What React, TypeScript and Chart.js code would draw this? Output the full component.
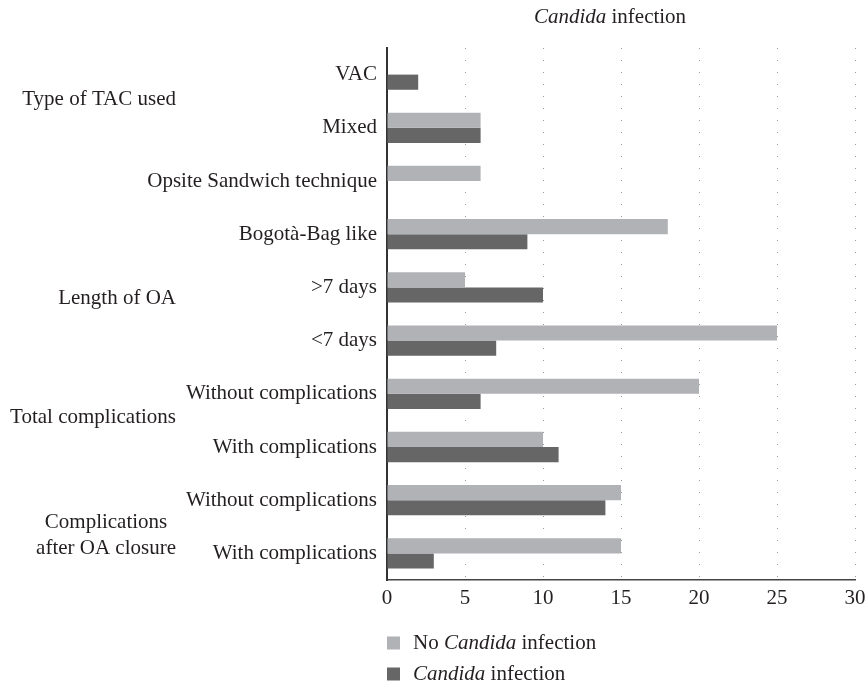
import React, { useEffect, useRef } from 'react';
import { Chart, registerables } from 'chart.js';

Chart.register(...registerables);

const categories = [
  'VAC',
  'Mixed',
  'Opsite Sandwich technique',
  'Bogotà-Bag like',
  '>7 days',
  '<7 days',
  'Without complications',
  'With complications',
  'Without complications',
  'With complications',
];
const noCandida = [0, 6, 6, 18, 5, 25, 20, 10, 15, 15];
const candida = [2, 6, 0, 9, 10, 7, 6, 11, 14, 3];
const seriesNames = ['No Candida infection', 'Candida infection'];
const groupLabels = [
  ['Type of TAC used'],
  ['Length of OA'],
  ['Total complications'],
  ['Complications', 'after OA closure'],
];
const titleText = 'Candida infection';
const xMin = 0;
const xMax = 30;
const xStep = 5;

const FONT = '"Liberation Serif", "Times New Roman", serif';
const TEXT = '#231f20';
const LIGHT = '#b1b2b6';
const DARK = '#666666';
const FS = 21;

function drawRich(ctx: CanvasRenderingContext2D, text: string, x: number, y: number, size: number, align: 'left' | 'center' | 'right') {
  const parts = text.split(/(Candida)/).filter((p) => p.length > 0);
  const fonts = parts.map((p) => (p === 'Candida' ? 'italic ' : '') + size + 'px ' + FONT);
  const widths = parts.map((p, i) => {
    ctx.font = fonts[i];
    return ctx.measureText(p).width;
  });
  const total = widths.reduce((a, b) => a + b, 0);
  let cx = align === 'center' ? x - total / 2 : align === 'right' ? x - total : x;
  ctx.textBaseline = 'middle';
  ctx.textAlign = 'left';
  parts.forEach((p, i) => {
    ctx.font = fonts[i];
    ctx.fillText(p, cx, y);
    cx += widths[i];
  });
}

// positions (in category units) of the group labels on the y scale
const groupPos = [[0.47], [4.2], [6.44], [8.42, 8.9]];

const extrasPlugin = {
  id: 'extras',
  afterDraw(chart: any) {
    const ctx: CanvasRenderingContext2D = chart.ctx;
    const area = chart.chartArea;
    const y = chart.scales.y;
    ctx.save();
    ctx.fillStyle = TEXT;
    // title
    drawRich(ctx, titleText, (area.left + area.right) / 2 - 11, 17, FS, 'center');
    // group labels
    const rightX = 176;
    groupLabels.forEach((lines, gi) => {
      if (lines.length === 1) {
        ctx.font = FS + 'px ' + FONT;
        ctx.textAlign = 'right';
        ctx.textBaseline = 'middle';
        ctx.fillText(lines[0], rightX, y.getPixelForValue(groupPos[gi][0]));
      } else {
        ctx.font = FS + 'px ' + FONT;
        const maxW = Math.max(...lines.map((l) => ctx.measureText(l).width));
        const cx = rightX - maxW / 2;
        ctx.textAlign = 'center';
        ctx.textBaseline = 'middle';
        lines.forEach((l, li) => {
          ctx.fillText(l, cx, y.getPixelForValue(groupPos[gi][li]));
        });
      }
    });
    // legend
    const colors = [LIGHT, DARK];
    seriesNames.forEach((name, i) => {
      const ly = 643 + i * 31;
      ctx.fillStyle = colors[i];
      ctx.fillRect(area.left, ly - 6.5, 13, 13);
      ctx.fillStyle = TEXT;
      drawRich(ctx, name, area.left + 26, ly, FS, 'left');
    });
    ctx.restore();
  },
};

export default function App() {
  const ref = useRef<HTMLCanvasElement | null>(null);
  useEffect(() => {
    if (!ref.current) return;
    const chart = new Chart(ref.current, {
      type: 'bar',
      data: {
        labels: categories,
        datasets: [
          { label: seriesNames[0], data: noCandida, backgroundColor: LIGHT, borderWidth: 0 },
          { label: seriesNames[1], data: candida, backgroundColor: DARK, borderWidth: 0 },
        ],
      },
      options: {
        indexAxis: 'y',
        responsive: false,
        animation: false,
        devicePixelRatio: 1,
        layout: { padding: { top: 48, right: 12, bottom: 0, left: 0 } },
        datasets: { bar: { categoryPercentage: 0.57, barPercentage: 1 } },
        plugins: { legend: { display: false }, tooltip: { enabled: false }, title: { display: false } },
        scales: {
          x: {
            min: xMin,
            max: xMax,
            ticks: {
              stepSize: xStep,
              color: TEXT,
              font: { family: FONT, size: FS },
              padding: 6,
            },
            grid: { display: true, color: '#9a9a9a', lineWidth: 1, drawTicks: false },
            border: { display: true, color: '#444444', width: 1.5, dash: [1, 11] },
            afterFit: (s: any) => {
              s.height = 102;
              s.paddingRight = 0;
              s.paddingLeft = 0;
            },
          },
          y: {
            ticks: {
              color: TEXT,
              font: { family: FONT, size: FS },
              padding: 10,
            },
            grid: { display: false, drawTicks: false },
            border: { display: true, color: '#333333', width: 2 },
            afterFit: (s: any) => {
              s.width = 387;
              s.paddingTop = 0;
              s.paddingBottom = 0;
            },
          },
        },
      },
      plugins: [extrasPlugin],
    });
    return () => chart.destroy();
  }, []);
  return (
    <div style={{ position: 'fixed', left: 0, top: 0, width: 867, height: 682, background: '#fff' }}>
      <canvas ref={ref} width={867} height={682} />
    </div>
  );
}
